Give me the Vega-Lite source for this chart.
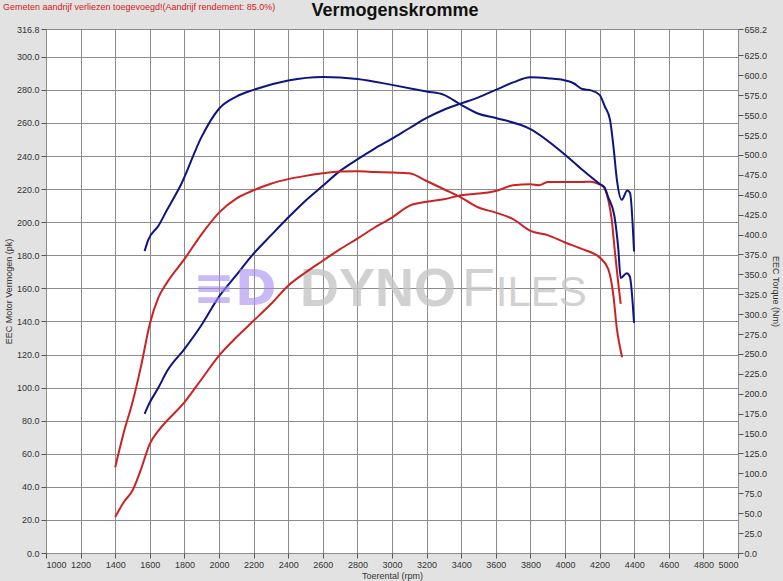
{
  "$schema": "https://vega.github.io/schema/vega-lite/v6.json",
  "width": 692,
  "height": 524,
  "autosize": {"type": "none"},
  "padding": {"left": 46, "top": 29, "right": 45, "bottom": 28},
  "background": "#e2e2e2",
  "config": {
    "font": "Liberation Sans",
    "view": {"fill": "white", "stroke": "#808080"},
    "axis": {
      "labelFont": "Liberation Sans", "labelFontSize": 9, "labelColor": "#333333",
      "titleFont": "Liberation Sans", "titleFontSize": 9, "titleFontWeight": "normal", "titleColor": "#333333",
      "tickColor": "#555555", "tickSize": 5, "domain": false, "labelOverlap": false, "labelBound": false,
      "gridColor": "#8c8c8c", "gridWidth": 1, "gridOpacity": 1
    }
  },
  "datasets": {
    "power": [
      {"rpm": 1570, "pk": 84.1, "run": "A"}, {"rpm": 1590, "pk": 89, "run": "A"}, {"rpm": 1650, "pk": 100, "run": "A"}, {"rpm": 1700, "pk": 110, "run": "A"}, {"rpm": 1800, "pk": 123.3, "run": "A"}, {"rpm": 1900, "pk": 138, "run": "A"}, {"rpm": 2000, "pk": 155, "run": "A"}, {"rpm": 2100, "pk": 168, "run": "A"}, {"rpm": 2200, "pk": 181, "run": "A"}, {"rpm": 2300, "pk": 192, "run": "A"}, {"rpm": 2400, "pk": 202.8, "run": "A"}, {"rpm": 2500, "pk": 213, "run": "A"}, {"rpm": 2600, "pk": 222, "run": "A"}, {"rpm": 2700, "pk": 231, "run": "A"}, {"rpm": 2800, "pk": 238, "run": "A"}, {"rpm": 2900, "pk": 244.5, "run": "A"}, {"rpm": 3000, "pk": 250.5, "run": "A"}, {"rpm": 3100, "pk": 256.8, "run": "A"}, {"rpm": 3200, "pk": 263, "run": "A"}, {"rpm": 3300, "pk": 268, "run": "A"}, {"rpm": 3400, "pk": 271.8, "run": "A"}, {"rpm": 3500, "pk": 275.5, "run": "A"}, {"rpm": 3600, "pk": 280, "run": "A"}, {"rpm": 3700, "pk": 284.5, "run": "A"}, {"rpm": 3800, "pk": 287.6, "run": "A"}, {"rpm": 3900, "pk": 287, "run": "A"}, {"rpm": 4000, "pk": 285.7, "run": "A"}, {"rpm": 4050, "pk": 284, "run": "A"}, {"rpm": 4100, "pk": 280.5, "run": "A"}, {"rpm": 4150, "pk": 279.7, "run": "A"}, {"rpm": 4200, "pk": 277, "run": "A"}, {"rpm": 4230, "pk": 270, "run": "A"}, {"rpm": 4260, "pk": 262, "run": "A"}, {"rpm": 4280, "pk": 245.8, "run": "A"}, {"rpm": 4300, "pk": 225.6, "run": "A"}, {"rpm": 4328, "pk": 213.5, "run": "A"}, {"rpm": 4360, "pk": 219.2, "run": "A"}, {"rpm": 4376, "pk": 217.6, "run": "A"}, {"rpm": 4399, "pk": 182.3, "run": "A"},
      {"rpm": 1400, "pk": 21.7, "run": "B"}, {"rpm": 1450, "pk": 30.8, "run": "B"}, {"rpm": 1500, "pk": 37.8, "run": "B"}, {"rpm": 1550, "pk": 50.9, "run": "B"}, {"rpm": 1600, "pk": 66, "run": "B"}, {"rpm": 1650, "pk": 74, "run": "B"}, {"rpm": 1700, "pk": 80, "run": "B"}, {"rpm": 1800, "pk": 91.1, "run": "B"}, {"rpm": 1900, "pk": 105.2, "run": "B"}, {"rpm": 2000, "pk": 119.3, "run": "B"}, {"rpm": 2100, "pk": 130.4, "run": "B"}, {"rpm": 2200, "pk": 140.4, "run": "B"}, {"rpm": 2300, "pk": 150.5, "run": "B"}, {"rpm": 2400, "pk": 161.6, "run": "B"}, {"rpm": 2500, "pk": 169.6, "run": "B"}, {"rpm": 2600, "pk": 176.7, "run": "B"}, {"rpm": 2700, "pk": 183.7, "run": "B"}, {"rpm": 2800, "pk": 190.1, "run": "B"}, {"rpm": 2900, "pk": 196.8, "run": "B"}, {"rpm": 3000, "pk": 202.8, "run": "B"}, {"rpm": 3100, "pk": 209.9, "run": "B"}, {"rpm": 3200, "pk": 212.3, "run": "B"}, {"rpm": 3300, "pk": 213.9, "run": "B"}, {"rpm": 3400, "pk": 216.3, "run": "B"}, {"rpm": 3500, "pk": 217.3, "run": "B"}, {"rpm": 3600, "pk": 218.9, "run": "B"}, {"rpm": 3700, "pk": 222.3, "run": "B"}, {"rpm": 3800, "pk": 222.9, "run": "B"}, {"rpm": 3850, "pk": 222.3, "run": "B"}, {"rpm": 3900, "pk": 224.3, "run": "B"}, {"rpm": 4000, "pk": 224.3, "run": "B"}, {"rpm": 4100, "pk": 224.3, "run": "B"}, {"rpm": 4150, "pk": 224.5, "run": "B"}, {"rpm": 4200, "pk": 222.9, "run": "B"}, {"rpm": 4222, "pk": 221.6, "run": "B"}, {"rpm": 4250, "pk": 213.5, "run": "B"}, {"rpm": 4270, "pk": 201.5, "run": "B"}, {"rpm": 4289, "pk": 181.5, "run": "B"}, {"rpm": 4308, "pk": 163, "run": "B"}, {"rpm": 4322, "pk": 150.6, "run": "B"}
    ],
    "torque": [
      {"rpm": 1570, "nm": 379.2, "run": "A"}, {"rpm": 1590, "nm": 392.7, "run": "A"}, {"rpm": 1650, "nm": 411, "run": "A"}, {"rpm": 1700, "nm": 431.1, "run": "A"}, {"rpm": 1780, "nm": 462.5, "run": "A"}, {"rpm": 1900, "nm": 523, "run": "A"}, {"rpm": 2000, "nm": 558, "run": "A"}, {"rpm": 2100, "nm": 573.2, "run": "A"}, {"rpm": 2200, "nm": 581.8, "run": "A"}, {"rpm": 2400, "nm": 593.6, "run": "A"}, {"rpm": 2600, "nm": 598, "run": "A"}, {"rpm": 2800, "nm": 595.5, "run": "A"}, {"rpm": 3000, "nm": 588, "run": "A"}, {"rpm": 3200, "nm": 579.7, "run": "A"}, {"rpm": 3300, "nm": 575.5, "run": "A"}, {"rpm": 3400, "nm": 563, "run": "A"}, {"rpm": 3500, "nm": 551.8, "run": "A"}, {"rpm": 3600, "nm": 546.4, "run": "A"}, {"rpm": 3800, "nm": 532.5, "run": "A"}, {"rpm": 4000, "nm": 500.3, "run": "A"}, {"rpm": 4100, "nm": 481.4, "run": "A"}, {"rpm": 4200, "nm": 463.7, "run": "A"}, {"rpm": 4228, "nm": 459.2, "run": "A"}, {"rpm": 4250, "nm": 446.7, "run": "A"}, {"rpm": 4285, "nm": 423.9, "run": "A"}, {"rpm": 4308, "nm": 382.3, "run": "A"}, {"rpm": 4322, "nm": 345.3, "run": "A"}, {"rpm": 4357, "nm": 351.5, "run": "A"}, {"rpm": 4375, "nm": 347, "run": "A"}, {"rpm": 4399, "nm": 289, "run": "A"},
      {"rpm": 1400, "nm": 107.8, "run": "B"}, {"rpm": 1450, "nm": 151.7, "run": "B"}, {"rpm": 1500, "nm": 189.3, "run": "B"}, {"rpm": 1550, "nm": 235.4, "run": "B"}, {"rpm": 1600, "nm": 287.6, "run": "B"}, {"rpm": 1650, "nm": 321, "run": "B"}, {"rpm": 1700, "nm": 339.9, "run": "B"}, {"rpm": 1800, "nm": 369.2, "run": "B"}, {"rpm": 1900, "nm": 400.6, "run": "B"}, {"rpm": 2000, "nm": 427.6, "run": "B"}, {"rpm": 2100, "nm": 445.2, "run": "B"}, {"rpm": 2200, "nm": 455.6, "run": "B"}, {"rpm": 2300, "nm": 463.9, "run": "B"}, {"rpm": 2400, "nm": 469.6, "run": "B"}, {"rpm": 2500, "nm": 473.7, "run": "B"}, {"rpm": 2600, "nm": 477, "run": "B"}, {"rpm": 2700, "nm": 479.1, "run": "B"}, {"rpm": 2800, "nm": 479.5, "run": "B"}, {"rpm": 2900, "nm": 478.7, "run": "B"}, {"rpm": 3000, "nm": 477.9, "run": "B"}, {"rpm": 3100, "nm": 477, "run": "B"}, {"rpm": 3200, "nm": 467.3, "run": "B"}, {"rpm": 3300, "nm": 456.9, "run": "B"}, {"rpm": 3400, "nm": 446.5, "run": "B"}, {"rpm": 3500, "nm": 434, "run": "B"}, {"rpm": 3600, "nm": 427.6, "run": "B"}, {"rpm": 3700, "nm": 419.3, "run": "B"}, {"rpm": 3800, "nm": 404.7, "run": "B"}, {"rpm": 3900, "nm": 399.3, "run": "B"}, {"rpm": 4000, "nm": 390, "run": "B"}, {"rpm": 4100, "nm": 381.7, "run": "B"}, {"rpm": 4200, "nm": 371.3, "run": "B"}, {"rpm": 4250, "nm": 356.5, "run": "B"}, {"rpm": 4280, "nm": 323.1, "run": "B"}, {"rpm": 4300, "nm": 281.3, "run": "B"}, {"rpm": 4320, "nm": 256.2, "run": "B"}, {"rpm": 4330, "nm": 245.8, "run": "B"}
    ]
  },
  "layer": [
    {
      "layer": [
        {
          "data": {"values": [{"rpm": 2468, "pk": 159, "txt": "DYNO"}]},
          "mark": {"type": "text", "fontSize": 54, "fontWeight": "bold", "font": "Liberation Sans", "color": "#c6c6c6", "opacity": 0.8, "align": "left", "baseline": "middle"},
          "encoding": {"x": {"field": "rpm", "type": "quantitative"}, "y": {"field": "pk", "type": "quantitative"}, "text": {"field": "txt"}}
        },
        {
          "data": {"values": [{"rpm": 3405, "pk": 159, "txt": "F"}]},
          "mark": {"type": "text", "fontSize": 54, "fontWeight": "normal", "font": "Liberation Sans", "color": "#c6c6c6", "opacity": 0.8, "align": "left", "baseline": "middle"},
          "encoding": {"x": {"field": "rpm", "type": "quantitative"}, "y": {"field": "pk", "type": "quantitative"}, "text": {"field": "txt"}}
        },
        {
          "data": {"values": [{"rpm": 3600, "pk": 159, "txt": "ILES"}]},
          "mark": {"type": "text", "fontSize": 42, "fontWeight": "normal", "font": "Liberation Sans", "color": "#c6c6c6", "opacity": 0.8, "align": "left", "baseline": "middle", "dy": 3},
          "encoding": {"x": {"field": "rpm", "type": "quantitative"}, "y": {"field": "pk", "type": "quantitative"}, "text": {"field": "txt"}}
        },
        {
          "data": {"name": "power"},
          "mark": {"type": "line", "strokeWidth": 2, "interpolate": "monotone"},
          "encoding": {
            "x": {"field": "rpm", "type": "quantitative", "scale": {"domain": [1000, 5000], "nice": false, "zero": false},
                  "axis": {"values": [1000,1200,1400,1600,1800,2000,2200,2400,2600,2800,3000,3200,3400,3600,3800,4000,4200,4400,4600,4800,5000], "tickCount": 50, "format": "d", "title": "Toerental (rpm)", "grid": true, "labelPadding": 2, "titlePadding": 2}},
            "y": {"field": "pk", "type": "quantitative", "scale": {"domain": [0, 316.8], "nice": false, "zero": true},
                  "axis": {"orient": "left", "values": [0,20,40,60,80,100,120,140,160,180,200,220,240,260,280,300,316.8], "tickCount": 50, "format": ".1f", "title": "EEC Motor Vermogen (pk)", "grid": true, "labelPadding": 2, "titlePadding": 3}},
            "color": {"field": "run", "type": "nominal", "scale": {"domain": ["A", "B"], "range": ["#0c1580", "#cc2222"]}, "legend": null}
          }
        },
        {
          "data": {"values": [{"rpm": 2092, "pk": 159, "txt": "≡D"}]},
          "mark": {"type": "text", "fontSize": 50, "fontWeight": "bold", "font": "DejaVu Sans", "color": "#a88cf2", "opacity": 0.6, "align": "center", "baseline": "middle"},
          "encoding": {"x": {"field": "rpm", "type": "quantitative"}, "y": {"field": "pk", "type": "quantitative"}, "text": {"field": "txt"}}
        },
        {
          "data": {"values": [{"rpm": 1000, "pk": 316.8, "txt": "Gemeten aandrijf verliezen toegevoegd!(Aandrijf rendement: 85.0%)"}]},
          "mark": {"type": "text", "fontSize": 9, "font": "Liberation Sans", "color": "#d42020", "align": "left", "baseline": "middle", "dx": -43, "dy": -22},
          "encoding": {"x": {"field": "rpm", "type": "quantitative"}, "y": {"field": "pk", "type": "quantitative"}, "text": {"field": "txt"}}
        },
        {
          "data": {"values": [{"rpm": 3017, "pk": 316.8, "txt": "Vermogenskromme"}]},
          "mark": {"type": "text", "fontSize": 18, "fontWeight": "bold", "font": "Liberation Sans", "color": "#111111", "align": "center", "baseline": "middle", "dy": -18},
          "encoding": {"x": {"field": "rpm", "type": "quantitative"}, "y": {"field": "pk", "type": "quantitative"}, "text": {"field": "txt"}}
        }
      ]
    },
    {
      "data": {"name": "torque"},
      "mark": {"type": "line", "strokeWidth": 2, "interpolate": "monotone"},
      "encoding": {
        "x": {"field": "rpm", "type": "quantitative"},
        "y": {"field": "nm", "type": "quantitative", "scale": {"domain": [0, 658.2], "nice": false, "zero": true},
              "axis": {"orient": "right", "values": [0,25,50,75,100,125,150,175,200,225,250,275,300,325,350,375,400,425,450,475,500,525,550,575,600,625,658.2], "tickCount": 50, "format": ".1f", "title": "EEC Torque (Nm)", "grid": false, "labelPadding": 1, "titlePadding": 4}},
        "color": {"field": "run", "type": "nominal", "scale": {"domain": ["A", "B"], "range": ["#0c1580", "#cc2222"]}, "legend": null}
      }
    }
  ],
  "resolve": {"scale": {"y": "independent"}}
}
